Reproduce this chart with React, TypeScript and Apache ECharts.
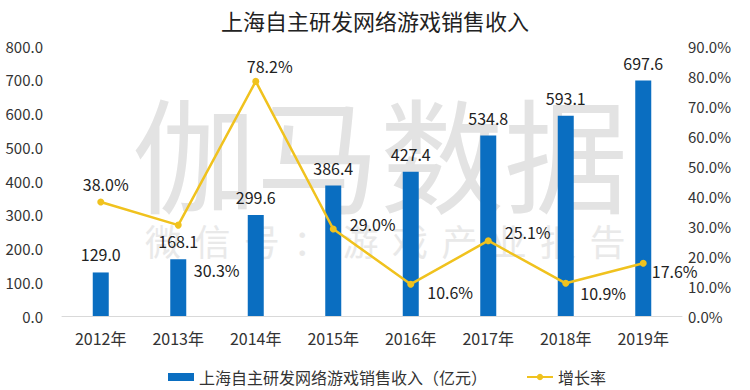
import React, { useEffect, useRef } from "react";
import * as echarts from "echarts";

const categories = ["2012年", "2013年", "2014年", "2015年", "2016年", "2017年", "2018年", "2019年"];
const revenue = [129.0, 168.1, 299.6, 386.4, 427.4, 534.8, 593.1, 697.6];
const growth = [38.0, 30.3, 78.2, 29.0, 10.6, 25.1, 10.9, 17.6];
const revenueName = "上海自主研发网络游戏销售收入（亿元）";
const growthName = "增长率";
const titleText = "上海自主研发网络游戏销售收入";

// label placement per growth point (style only)
const growthLabelPos: { position: string; offset: number[]; distance?: number }[] = [
  { position: "top", offset: [5, 0], distance: 7 },
  { position: "right", offset: [7, 45] },
  { position: "top", offset: [14, 0], distance: 4 },
  { position: "right", offset: [8, -5] },
  { position: "right", offset: [8, 8] },
  { position: "right", offset: [8, -9] },
  { position: "right", offset: [6, 10] },
  { position: "right", offset: [0, 8] },
];

const FONT = "'Noto Sans CJK SC', 'Noto Sans', sans-serif";
const small = "微信号：游戏产业报告".split("");

export default function App() {
  const ref = useRef<HTMLDivElement>(null);
  useEffect(() => {
    if (!ref.current) return;
    const chart = echarts.init(ref.current, undefined, { renderer: "svg" });
    chart.setOption({
      animation: false,
      textStyle: { fontFamily: FONT },
      title: {
        text: titleText,
        left: "center",
        top: 4,
        textStyle: { fontSize: 22, fontWeight: "normal", color: "#222", fontFamily: FONT },
      },
      graphic: [
        {
          type: "text",
          z: -10,
          silent: true,
          style: {
            text: "伽马数据",
            x: 380,
            y: 150,
            align: "center",
            verticalAlign: "middle",
            fontSize: 124,
            fontFamily: FONT,
            fill: "#e3e3e3",
          },
        },
        ...small.map((ch, i) => ({
          type: "text",
          z: -10,
          silent: true,
          style: {
            text: ch,
            x: 163 + 49.4 * i,
            y: 240,
            align: "center",
            verticalAlign: "middle",
            fontSize: 36,
            fontFamily: FONT,
            fill: "#e9e9e9",
          },
        })),
      ],
      legend: {
        left: 163,
        top: 364,
        itemWidth: 26,
        itemHeight: 8,
        itemGap: 39,
        textStyle: { fontSize: 16, color: "#333", fontFamily: FONT },
        data: [
          { name: revenueName, icon: "rect" },
          { name: growthName },
        ],
      },
      grid: { left: 62, right: 68, top: 46, bottom: 74 },
      xAxis: {
        type: "category",
        data: categories,
        axisLine: { lineStyle: { color: "#d9d9d9" } },
        axisTick: { show: false },
        axisLabel: { fontSize: 16, color: "#333", margin: 14, fontFamily: FONT },
      },
      yAxis: [
        {
          type: "value",
          min: 0,
          max: 800,
          interval: 100,
          axisLine: { show: false },
          axisTick: { show: false },
          splitLine: { show: false },
          axisLabel: {
            fontSize: 15,
            color: "#333",
            margin: 19,
            fontFamily: FONT,
            formatter: (v: number) => v.toFixed(1),
          },
        },
        {
          type: "value",
          min: 0,
          max: 90,
          interval: 10,
          axisLine: { show: false },
          axisTick: { show: false },
          splitLine: { show: false },
          axisLabel: {
            fontSize: 15,
            color: "#333",
            margin: 6,
            fontFamily: FONT,
            formatter: (v: number) => v.toFixed(1) + "%",
          },
        },
      ],
      series: [
        {
          name: revenueName,
          type: "bar",
          data: revenue,
          barWidth: 16,
          itemStyle: { color: "#0A6EC1" },
          label: {
            show: true,
            position: "top",
            distance: 10,
            fontSize: 16,
            color: "#222",
            fontFamily: FONT,
            formatter: (p: any) => Number(p.value).toFixed(1),
          },
        },
        {
          name: growthName,
          type: "line",
          yAxisIndex: 1,
          data: growth.map((v, i) => ({
            value: v,
            label: {
              position: growthLabelPos[i].position,
              offset: growthLabelPos[i].offset,
              distance: growthLabelPos[i].distance ?? 5,
            },
          })),
          symbol: "circle",
          symbolSize: 7,
          lineStyle: { color: "#F0C21E", width: 2.5 },
          itemStyle: { color: "#F0C21E" },
          label: {
            show: true,
            fontSize: 16,
            color: "#222",
            fontFamily: FONT,
            formatter: (p: any) => Number(p.value).toFixed(1) + "%",
          },
          z: 3,
        },
      ],
    });
    return () => chart.dispose();
  }, []);
  return <div ref={ref} style={{ position: "fixed", left: 0, top: 0, width: 750, height: 390, background: "#fff" }} />;
}
